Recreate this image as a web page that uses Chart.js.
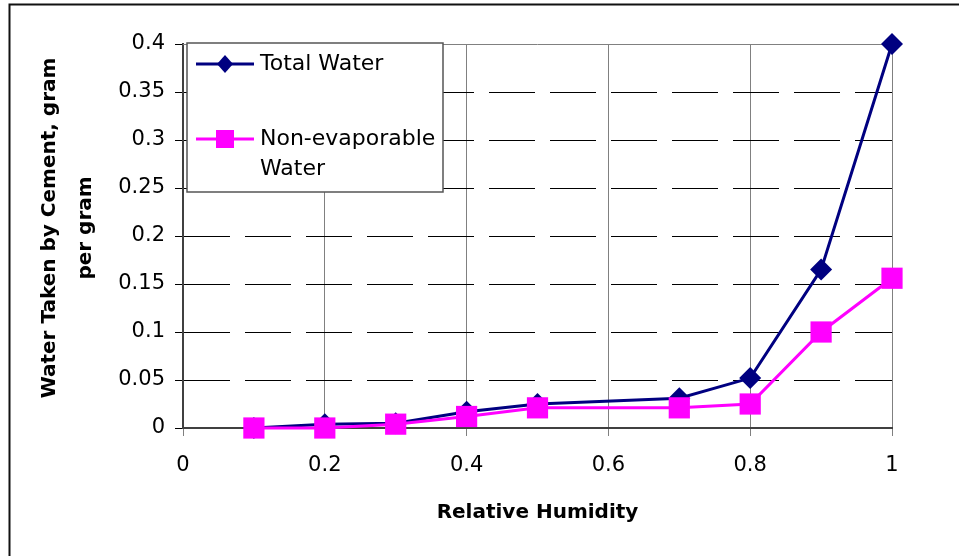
<!DOCTYPE html>
<html>
<head>
<meta charset="utf-8">
<script src="https://cdn.jsdelivr.net/npm/chart.js@4.4.0/dist/chart.umd.min.js"></script>
<style>
  html, body { margin: 0; padding: 0; background: #fff; }
  #wrap { width: 959px; height: 556px; }
</style>
</head>
<body>
<div id="wrap"><canvas id="myChart" width="959" height="556"></canvas></div>
<script>
// relative humidity vs water taken by cement (gram per gram)
const humidity = [0.1, 0.2, 0.3, 0.4, 0.5, 0.7, 0.8, 0.9, 1.0];
const totalWater = [0, 0.004, 0.005, 0.017, 0.025, 0.031, 0.052, 0.165, 0.4];
const nonEvapWater = [0, 0, 0.004, 0.012, 0.021, 0.021, 0.025, 0.1, 0.156];

const xTicks = [0, 0.2, 0.4, 0.6, 0.8, 1];
const xTickLabels = ['0', '0.2', '0.4', '0.6', '0.8', '1'];
const yTicks = [0, 0.05, 0.1, 0.15, 0.2, 0.25, 0.3, 0.35, 0.4];
const yTickLabels = ['0', '0.05', '0.1', '0.15', '0.2', '0.25', '0.3', '0.35', '0.4'];

const seriesNames = ['Total Water', 'Non-evaporable Water'];
const xTitle = 'Relative Humidity';
const yTitle = ['Water Taken by Cement, gram', 'per gram'];

const NAVY = '#000080';
const MAGENTA = '#ff00ff';
const FONT = '"DejaVu Sans", "Liberation Sans", Arial, sans-serif';

function toPoints(ys) {
  return humidity.map((x, i) => ({ x: x, y: ys[i] }));
}

// wrap legend text to a max width
function wrapText(ctx, text, maxW) {
  const words = text.split(' ');
  const lines = [];
  let cur = '';
  words.forEach(w => {
    const test = cur ? cur + ' ' + w : w;
    if (cur && ctx.measureText(test).width > maxW) { lines.push(cur); cur = w; }
    else cur = test;
  });
  if (cur) lines.push(cur);
  return lines;
}

const extras = {
  id: 'extras',
  beforeDraw(chart) {
    const ctx = chart.ctx;
    ctx.save();
    ctx.fillStyle = '#fff';
    ctx.fillRect(0, 0, chart.width, chart.height);
    // outer frame (top + left only visible)
    ctx.strokeStyle = '#111';
    ctx.lineWidth = 2;
    ctx.beginPath();
    ctx.moveTo(9.5, chart.height);
    ctx.lineTo(9.5, 4.5);
    ctx.lineTo(chart.width, 4.5);
    ctx.stroke();
    ctx.restore();
  },
  beforeDatasetsDraw(chart) {
    // top edge of plot is a solid gray line
    const ctx = chart.ctx, a = chart.chartArea;
    ctx.save();
    ctx.strokeStyle = '#808080';
    ctx.lineWidth = 1;
    ctx.beginPath();
    ctx.moveTo(a.left, a.top + 0.5);
    ctx.lineTo(a.right, a.top + 0.5);
    ctx.stroke();
    ctx.restore();
  },
  afterDraw(chart) {
    const ctx = chart.ctx, a = chart.chartArea;
    ctx.save();
    // axis titles
    ctx.fillStyle = '#000';
    ctx.font = 'bold 20px ' + FONT;
    ctx.textAlign = 'center';
    ctx.textBaseline = 'middle';
    ctx.fillText(xTitle, (a.left + a.right) / 2, 513);
    ctx.save();
    ctx.translate(50, 228);
    ctx.rotate(-Math.PI / 2);
    yTitle.forEach((t, i) => ctx.fillText(t, 0, i * 36));
    ctx.restore();

    // legend box
    const lx = 187, ly = 43, lw = 256, lh = 149;
    ctx.fillStyle = '#fff';
    ctx.fillRect(lx, ly, lw, lh);
    ctx.strokeStyle = '#555';
    ctx.lineWidth = 1.5;
    ctx.strokeRect(lx, ly, lw, lh);

    ctx.font = '22px ' + FONT;
    ctx.textAlign = 'left';
    const rows = [64, 139];
    const colors = [NAVY, MAGENTA];
    seriesNames.forEach((name, i) => {
      const y = rows[i];
      ctx.strokeStyle = colors[i];
      ctx.lineWidth = 3;
      ctx.beginPath();
      ctx.moveTo(196, y);
      ctx.lineTo(254, y);
      ctx.stroke();
      ctx.fillStyle = colors[i];
      ctx.beginPath();
      if (i === 0) {
        ctx.moveTo(225, y - 9); ctx.lineTo(233, y); ctx.lineTo(225, y + 9); ctx.lineTo(217, y);
      } else {
        ctx.rect(216, y - 9, 18, 18);
      }
      ctx.closePath();
      ctx.fill();
      ctx.fillStyle = '#000';
      wrapText(ctx, name, 175).forEach((ln, j) => ctx.fillText(ln, 260, y + j * 30));
    });
    ctx.restore();
  }
};

const ctx = document.getElementById('myChart').getContext('2d');
const myChart = new Chart(ctx, {
  type: 'scatter',
  data: {
    datasets: [
      {
        label: seriesNames[0],
        data: toPoints(totalWater),
        showLine: true,
        borderColor: NAVY,
        backgroundColor: NAVY,
        borderWidth: 3,
        pointStyle: 'rectRot',
        pointRadius: 11,
        pointBorderWidth: 0,
        pointBackgroundColor: NAVY,
        clip: false,
        order: 2
      },
      {
        label: seriesNames[1],
        data: toPoints(nonEvapWater),
        showLine: true,
        borderColor: MAGENTA,
        backgroundColor: MAGENTA,
        borderWidth: 3,
        pointStyle: 'rect',
        pointRadius: 15,
        pointBorderWidth: 0,
        pointBackgroundColor: MAGENTA,
        clip: false,
        order: 1
      }
    ]
  },
  options: {
    responsive: false,
    animation: false,
    layout: { padding: { left: 0, top: 44, right: 67, bottom: 0 } },
    plugins: { legend: { display: false }, tooltip: { enabled: false } },
    scales: {
      x: {
        type: 'linear',
        min: 0,
        max: 1,
        afterBuildTicks: s => { s.ticks = xTicks.map(v => ({ value: v })); },
        afterFit: s => { s.height = 128; },
        ticks: {
          callback: (v, i) => xTickLabels[i],
          font: { family: FONT, size: 21 },
          color: '#000',
          padding: 17,
          maxRotation: 0,
          autoSkip: false
        },
        grid: { color: '#808080', lineWidth: 1, tickLength: 8, tickColor: '#808080' },
        border: { color: '#404040', width: 2 }
      },
      y: {
        min: 0,
        max: 0.4,
        afterBuildTicks: s => { s.ticks = yTicks.map(v => ({ value: v })); },
        afterFit: s => { s.width = 183; },
        ticks: {
          callback: (v, i) => yTickLabels[i],
          font: { family: FONT, size: 21 },
          color: '#000',
          padding: 10,
          autoSkip: false
        },
        grid: { color: '#000', lineWidth: 1, tickLength: 8, tickColor: '#000' },
        border: { color: '#404040', width: 2, dash: [46, 15] }
      }
    }
  },
  plugins: [extras]
});
</script>
</body>
</html>
